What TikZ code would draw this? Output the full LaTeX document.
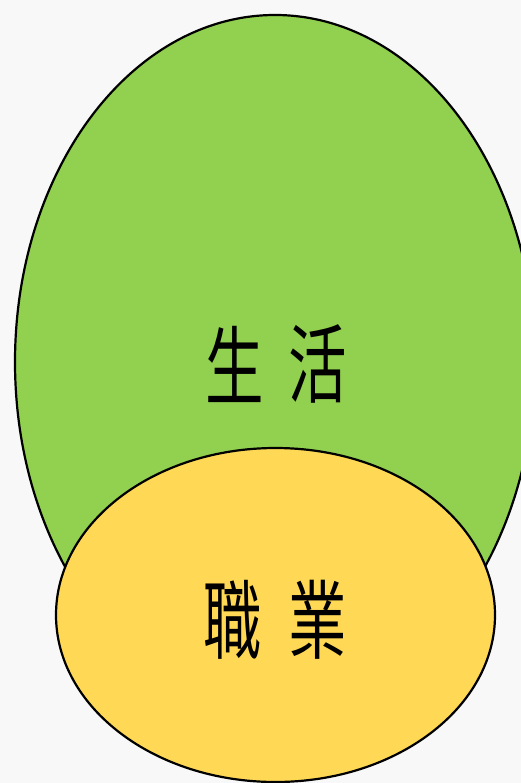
\documentclass[tikz,border=0pt]{standalone}
\usepackage{fontspec}
\newfontfamily\cjk{Noto Sans CJK TC}
\definecolor{bg}{HTML}{F8F8F8}
\definecolor{grn}{HTML}{92D050}
\definecolor{ylw}{HTML}{FFD955}
\begin{document}
\begin{tikzpicture}[x=1pt,y=-1pt,
  blob/.style={draw=black,line width=2.2pt},
  glyph/.style={inner sep=0pt,font=\cjk\fontsize{86}{86}\selectfont,xscale=0.68}]
\useasboundingbox[fill=bg] (0,0) rectangle (521,783);
\clip (0,0) rectangle (521,783);
\draw[blob,fill=grn] (275,362) ellipse [x radius=260, y radius=347];
\draw[blob,fill=ylw] (275.5,615) ellipse [x radius=219.5, y radius=167];
\node[glyph] (s1) at (235,364) {生};
\node[glyph] (s2) at (318,364) {活};
\node[glyph] (w1) at (233,620) {職};
\node[glyph] (w2) at (318,620) {業};
\end{tikzpicture}
\end{document}
